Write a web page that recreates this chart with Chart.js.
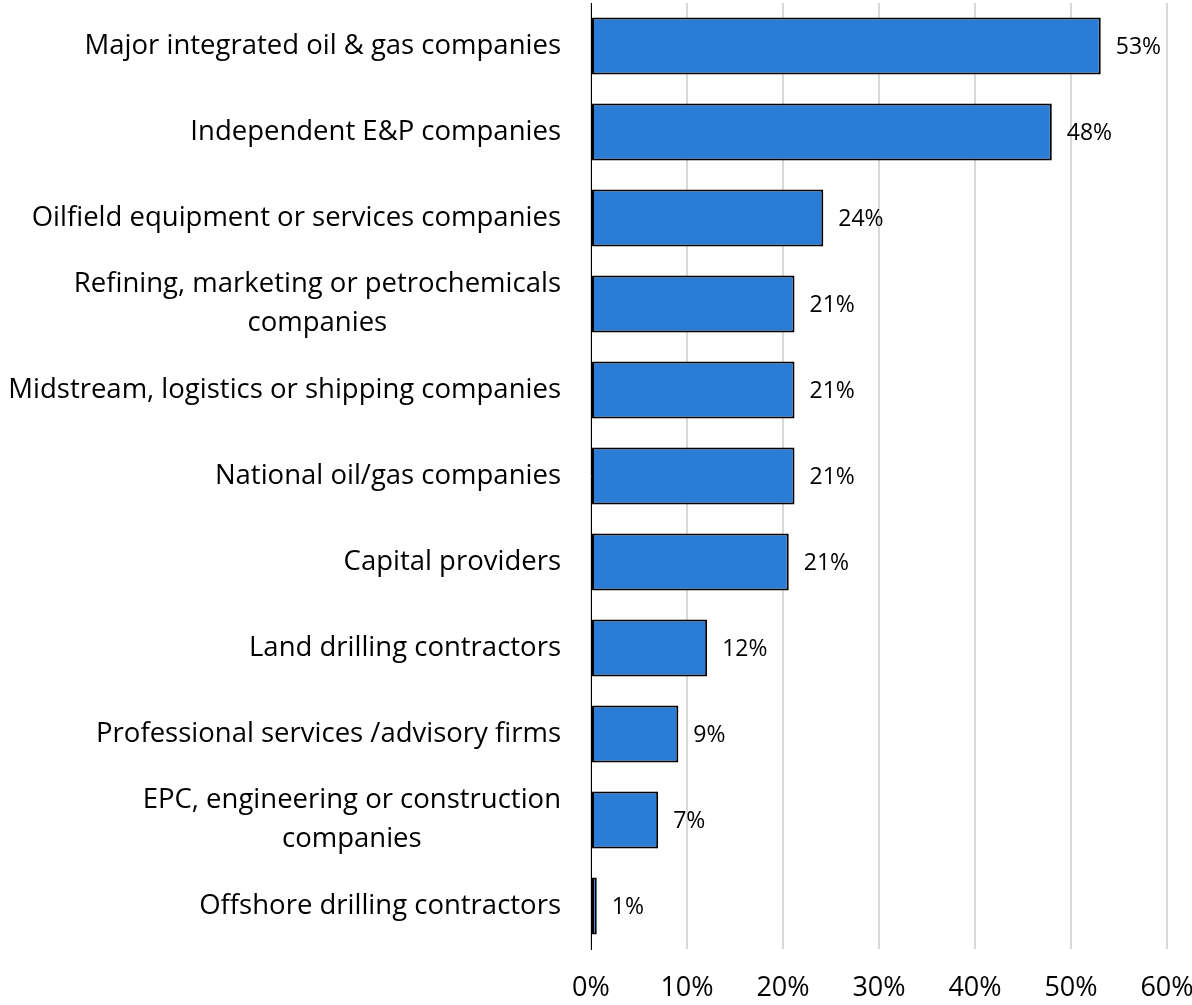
<!DOCTYPE html>
<html>
<head>
<meta charset="utf-8">
<script src="https://cdn.jsdelivr.net/npm/chart.js@4"></script>
<style>
  html, body { margin: 0; padding: 0; background: #fff; }
  #wrap { width: 1192px; height: 1005px; position: relative; }
</style>
</head>
<body>
<div id="wrap"><canvas id="chart"></canvas></div>
<script>
// categories, top to bottom
const categories = [
  "Major integrated oil & gas companies",
  "Independent E&P companies",
  "Oilfield equipment or services companies",
  ["Refining, marketing or petrochemicals", "companies"],
  "Midstream, logistics or shipping companies",
  "National oil/gas companies",
  "Capital providers",
  "Land drilling contractors",
  "Professional services /advisory firms",
  ["EPC, engineering or construction", "companies"],
  "Offshore drilling contractors"
];

// share of respondents, percent
const shares = [53.1, 48.0, 24.2, 21.2, 21.2, 21.2, 20.6, 12.1, 9.1, 7.0, 0.6];

const xTicks = [0, 10, 20, 30, 40, 50, 60];

const FONT = "'Open Sans', sans-serif";

// writes the rounded percentage just past the end of each bar
const valueLabels = {
  id: 'valueLabels',
  afterDatasetsDraw(chart) {
    const ctx = chart.ctx;
    const meta = chart.getDatasetMeta(0);
    ctx.save();
    ctx.font = "23px " + FONT;
    ctx.fillStyle = "#000";
    ctx.textAlign = "left";
    ctx.textBaseline = "middle";
    meta.data.forEach((bar, i) => {
      ctx.fillText(Math.round(shares[i]) + "%", bar.x + 15, bar.y + 1);
    });
    ctx.restore();
  }
};

// category names: right edge 30px left of the axis, wrapped lines centred under the first
const categoryLabels = {
  id: 'categoryLabels',
  afterDraw(chart) {
    const ctx = chart.ctx;
    const y = chart.scales.y;
    const right = y.right - 30;
    const lineH = 39;
    ctx.save();
    ctx.font = "27.5px " + FONT;
    ctx.fillStyle = "#000";
    ctx.textBaseline = "middle";
    categories.forEach((lab, i) => {
      const cy = y.getPixelForTick(i);
      const lines = Array.isArray(lab) ? lab : [lab];
      const w = ctx.measureText(lines[0]).width;
      const mid = right - w / 2;
      const top = cy - (lines.length - 1) * lineH / 2;
      lines.forEach((ln, k) => {
        ctx.textAlign = k === 0 ? "right" : "center";
        ctx.fillText(ln, k === 0 ? right : mid, top + k * lineH);
      });
    });
    ctx.restore();
  }
};

new Chart(document.getElementById('chart'), {
  type: 'bar',
  data: {
    labels: categories,
    datasets: [{
      data: shares,
      backgroundColor: '#2b7cd6',
      borderColor: '#000',
      borderWidth: 2,
      borderSkipped: false,
      categoryPercentage: 0.66,
      barPercentage: 1.0
    }]
  },
  options: {
    indexAxis: 'y',
    responsive: true,
    maintainAspectRatio: false,
    animation: false,
    layout: { padding: { top: 3, right: 25, bottom: 2, left: 0 } },
    plugins: {
      legend: { display: false },
      tooltip: { enabled: false }
    },
    scales: {
      x: {
        min: 0,
        max: 60,
        afterBuildTicks: axis => { axis.ticks = xTicks.map(v => ({ value: v })); },
        afterFit: axis => { axis.height = 54; axis.paddingLeft = 0; axis.paddingRight = 0; },
        grid: { color: '#d9d9d9', lineWidth: 2, drawTicks: false },
        border: { display: false },
        ticks: {
          padding: 23,
          color: '#000',
          font: { family: FONT, size: 27 },
          callback: v => v + '%'
        }
      },
      y: {
        afterFit: axis => { axis.width = 591; axis.paddingTop = 0; axis.paddingBottom = 0; },
        grid: { display: false, drawTicks: false },
        border: { display: true, color: '#000', width: 1 },
        ticks: { display: false }
      }
    }
  },
  plugins: [valueLabels, categoryLabels]
});
</script>
</body>
</html>
